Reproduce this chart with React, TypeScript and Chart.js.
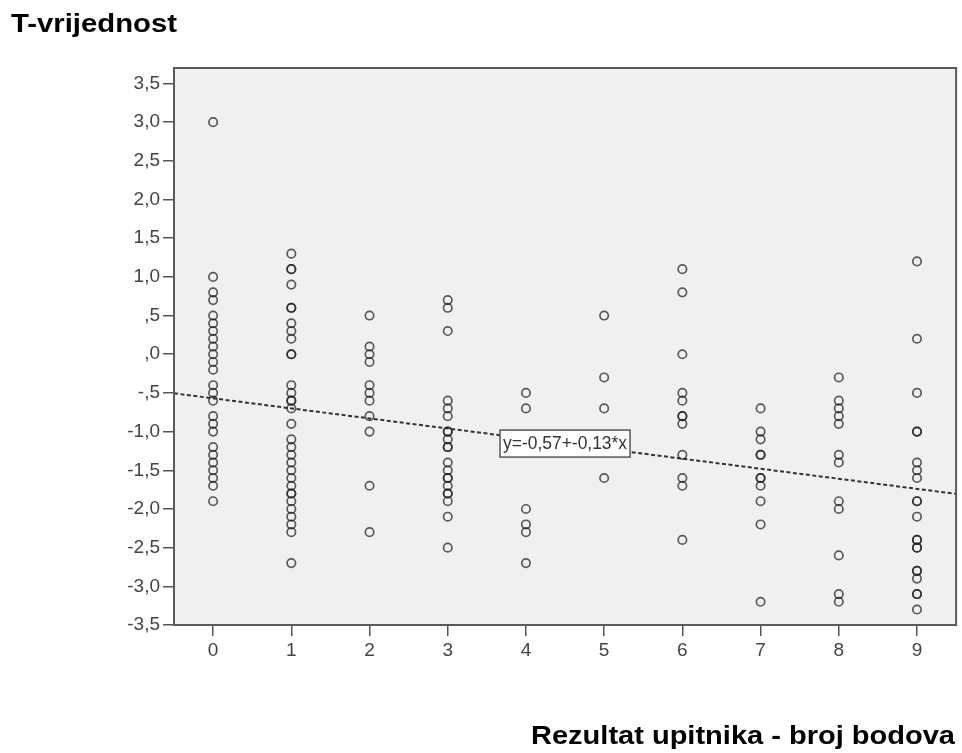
import React, { useEffect, useRef } from "react";
import { Chart, registerables } from "chart.js";

Chart.register(...registerables);

// Scores on the questionnaire (x categories)
const scores = [0, 1, 2, 3, 4, 5, 6, 7, 8, 9];

// T-values observed at each score
const tScore0 = [3.0, 1.0, 0.8, 0.7, 0.5, 0.4, 0.3, 0.2, 0.1, 0.0, -0.1, -0.2, -0.4, -0.5, -0.6, -0.8, -0.9, -1.0, -1.2, -1.3, -1.4, -1.5, -1.6, -1.7, -1.9];
const tScore1 = [1.3, 1.1, 1.1, 0.9, 0.6, 0.6, 0.4, 0.3, 0.2, 0.0, 0.0, -0.4, -0.5, -0.6, -0.6, -0.7, -0.9, -1.1, -1.2, -1.3, -1.4, -1.5, -1.6, -1.7, -1.8, -1.8, -1.9, -2.0, -2.1, -2.2, -2.3, -2.7];
const tScore2 = [0.5, 0.1, 0.0, -0.1, -0.4, -0.5, -0.6, -0.8, -1.0, -1.7, -2.3];
const tScore3 = [0.7, 0.6, 0.3, -0.6, -0.7, -0.8, -1.0, -1.0, -1.1, -1.2, -1.2, -1.4, -1.5, -1.6, -1.6, -1.7, -1.8, -1.8, -1.9, -2.1, -2.5];
const tScore4 = [-0.5, -0.7, -2.0, -2.2, -2.3, -2.7];
const tScore5 = [0.5, -0.3, -0.7, -1.6];
const tScore6 = [1.1, 0.8, 0.0, -0.5, -0.6, -0.8, -0.8, -0.9, -1.3, -1.6, -1.7, -2.4];
const tScore7 = [-0.7, -1.0, -1.1, -1.3, -1.3, -1.6, -1.6, -1.7, -1.9, -2.2, -3.2];
const tScore8 = [-0.3, -0.6, -0.7, -0.8, -0.9, -1.3, -1.4, -1.9, -2.0, -2.6, -3.1, -3.2];
const tScore9 = [1.2, 0.2, -0.5, -1.0, -1.0, -1.4, -1.5, -1.6, -1.9, -1.9, -2.1, -2.4, -2.4, -2.5, -2.5, -2.8, -2.8, -2.9, -3.1, -3.1, -3.3];

const tByScore = [tScore0, tScore1, tScore2, tScore3, tScore4, tScore5, tScore6, tScore7, tScore8, tScore9];

// Fit line shown on the chart: y = -0,57 + -0,13*x
const fitIntercept = -0.57;
const fitSlope = -0.13;
const fitLabel = "y=-0,57+-0,13*x";
const fitLabelAt = 4.5;

const yTickValues = [-3.5, -3.0, -2.5, -2.0, -1.5, -1.0, -0.5, 0.0, 0.5, 1.0, 1.5, 2.0, 2.5, 3.0, 3.5];

const yTitle = "T-vrijednost";
const xTitle = "Rezultat upitnika - broj bodova";

function fmtComma(v: number): string {
  const a = Math.abs(v);
  let s = a.toFixed(1).replace(".", ",");
  if (a < 1) s = s.substring(1);
  return (v < 0 ? "-" : "") + s;
}

const FONT = "'Liberation Sans', Arial, sans-serif";

export default function App() {
  const ref = useRef<HTMLCanvasElement | null>(null);

  useEffect(() => {
    document.body.style.margin = "0";
    const canvas = ref.current;
    if (!canvas) return;

    const points: { x: number; y: number }[] = [];
    scores.forEach((s, i) => {
      tByScore[i].forEach((v) => points.push({ x: s, y: v }));
    });

    const fitY = (x: number) => fitIntercept + fitSlope * x;

    const decor = {
      id: "decor",
      beforeDatasetsDraw(chart: any) {
        const { ctx, chartArea: a } = chart;
        ctx.save();
        ctx.fillStyle = "#f0f0f0";
        ctx.fillRect(a.left, a.top, a.right - a.left, a.bottom - a.top);
        ctx.restore();
      },
      afterDatasetsDraw(chart: any) {
        const { ctx, chartArea: a, scales } = chart;
        ctx.save();
        ctx.strokeStyle = "#5a5a5a";
        ctx.lineWidth = 2;
        ctx.strokeRect(a.left, a.top, a.right - a.left, a.bottom - a.top);

        const cx = scales.x.getPixelForValue(fitLabelAt);
        const cy = scales.y.getPixelForValue(fitY(fitLabelAt));
        const bw = 130, bh = 27;
        const bx = cx - bw / 2, by = cy - bh / 2;
        ctx.fillStyle = "#ffffff";
        ctx.fillRect(bx, by, bw, bh);
        ctx.strokeStyle = "#555";
        ctx.lineWidth = 1.5;
        ctx.strokeRect(bx, by, bw, bh);
        ctx.fillStyle = "#333";
        ctx.font = `17.5px ${FONT}`;
        ctx.textBaseline = "middle";
        ctx.textAlign = "left";
        const tw = ctx.measureText(fitLabel).width;
        ctx.translate(bx + 3, cy + 1);
        ctx.scale(Math.min(1, (bw - 6) / tw), 1);
        ctx.fillText(fitLabel, 0, 0);
        ctx.restore();
      },
      afterDraw(chart: any) {
        const { ctx } = chart;
        ctx.save();
        ctx.fillStyle = "#000";
        ctx.textBaseline = "alphabetic";
        ctx.textAlign = "left";
        ctx.font = `bold 26px ${FONT}`;
        let w = ctx.measureText(yTitle).width;
        ctx.save();
        ctx.translate(11, 32);
        ctx.scale(166 / w, 1);
        ctx.fillText(yTitle, 0, 0);
        ctx.restore();
        ctx.font = `bold 25px ${FONT}`;
        w = ctx.measureText(xTitle).width;
        ctx.save();
        ctx.translate(531, 744);
        ctx.scale(424 / w, 1);
        ctx.fillText(xTitle, 0, 0);
        ctx.restore();
        ctx.restore();
      },
    };

    const chart = new Chart(canvas, {
      type: "scatter",
      data: {
        datasets: [
          {
            type: "scatter",
            data: points,
            pointStyle: "circle",
            pointRadius: 4.2,
            pointBorderWidth: 1.7,
            pointBackgroundColor: "rgba(0,0,0,0)",
            pointBorderColor: "rgba(30,30,30,0.72)",
          } as any,
          {
            type: "line",
            data: [
              { x: -0.5, y: fitY(-0.5) },
              { x: 9.5, y: fitY(9.5) },
            ],
            borderColor: "#333",
            borderWidth: 2,
            borderDash: [4, 2.5],
            pointRadius: 0,
            fill: false,
          } as any,
        ],
      },
      options: {
        responsive: false,
        animation: false,
        events: [],
        layout: { padding: { left: 0, right: 3, top: 68, bottom: 78 } },
        plugins: {
          legend: { display: false },
          tooltip: { enabled: false },
          title: { display: false },
        },
        scales: {
          x: {
            type: "linear",
            min: -0.5,
            max: 9.5,
            afterBuildTicks: (scale: any) => {
              scale.ticks = scores.map((v) => ({ value: v }));
            },
            afterFit: (scale: any) => {
              scale.height = 50;
            },
            grid: {
              drawOnChartArea: false,
              drawTicks: true,
              tickLength: 11,
              color: "#555",
              lineWidth: 1.5,
            },
            border: { display: false },
            ticks: {
              color: "#444",
              font: { size: 19, family: FONT },
              padding: 3,
              callback: (v: any) => String(v),
            },
          },
          y: {
            type: "linear",
            min: -3.5,
            max: 3.7,
            afterBuildTicks: (scale: any) => {
              scale.ticks = yTickValues.map((v) => ({ value: v }));
            },
            afterFit: (scale: any) => {
              scale.width = 174;
            },
            grid: {
              drawOnChartArea: false,
              drawTicks: true,
              tickLength: 11,
              color: "#555",
              lineWidth: 1.5,
            },
            border: { display: false },
            ticks: {
              color: "#444",
              font: { size: 19, family: FONT },
              padding: 3,
              callback: (v: any) => fmtComma(Number(v)),
            },
          },
        },
      },
      plugins: [decor],
    } as any);

    return () => chart.destroy();
  }, []);

  return (
    <div style={{ width: 962, height: 753 }}>
      <canvas ref={ref} width={962} height={753} style={{ display: "block" }} />
    </div>
  );
}
